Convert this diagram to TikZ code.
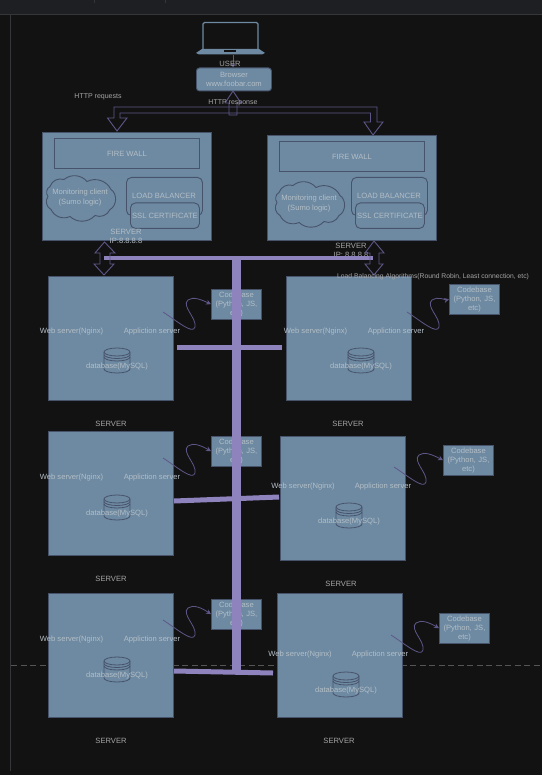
\documentclass[tikz,border=0pt]{standalone}
\usepackage{fontspec}
\setmainfont{Liberation Sans}
\usetikzlibrary{calc,arrows.meta}
\definecolor{bgc}{HTML}{121212}
\definecolor{barc}{HTML}{1E1F22}
\definecolor{sepc}{HTML}{34363A}
\definecolor{dashc}{HTML}{555555}
\definecolor{boxf}{HTML}{6D8AA2}
\definecolor{boxl}{HTML}{47536B}
\definecolor{txtc}{HTML}{B4BEC6}
\definecolor{txtd}{HTML}{A6A6A6}
\definecolor{purp}{HTML}{8F83BE}
\definecolor{purl}{HTML}{5F5688}
\tikzset{
  x=1pt,y=-1pt,
  lbl/.style={text=txtc,font=\fontsize{7.6}{9.2}\selectfont,inner sep=0pt,align=center},
  lbld/.style={lbl,text=txtd},
  lbls/.style={lbld,font=\fontsize{7}{9}\selectfont},
  blue box/.style={draw=boxl,fill=boxf,line width=0.9pt,anchor=north west,inner sep=0pt,lbl},
  round box/.style={blue box,rounded corners=5pt},
  cloudy/.style={draw=boxl,fill=boxf,line width=0.9pt},
  block/.style={draw=purl,line width=0.9pt,line join=miter},
  trunk/.style={draw=purp,line width=#1},
  trunk/.default=5pt,
  code link/.style={draw=purl,line width=0.8pt,-{Stealth[length=5pt,width=5pt,fill=purp]}},
  dbline/.style={draw=boxl,line width=0.8pt},
  cloud outline/.pic={
    \draw[cloudy] (-31,-11) to[bend left=45] (-17,-18) to[bend left=45] (6,-16) to[bend left=45] (30,-8)
      to[bend left=60] (29,12) to[bend left=45] (14,18) to[bend left=45] (-11,19) to[bend left=45] (-30,12)
      to[bend left=50] (-33,-1) to[bend left=50] cycle;
  },
}
\begin{document}
\begin{tikzpicture}
\useasboundingbox (0,0) rectangle (542,775);
% editor chrome
\fill[bgc] (0,0) rectangle (542,775);
\fill[barc] (0,0) rectangle (542,14);
\draw[sepc,line width=0.8pt] (0,14.5) -- (542,14.5);
\draw[sepc,line width=0.8pt] (94,0) -- (94,3);
\draw[sepc,line width=0.8pt] (165,0) -- (165,3);
\draw[sepc,line width=1pt] (10.5,14.5) -- (10.5,771);
\draw[dashc,line width=0.7pt,dash pattern=on 6pt off 3.5pt] (11,665.5) -- (542,665.5);

% laptop
\fill[boxf] (196,53) -- (202,49) -- (259,49) -- (265,53) -- (262,54.5) -- (199,54.5) -- cycle;
\draw[boxf,line width=1.4pt,rounded corners=1.5pt] (203,50) -- (203,22.5) -- (258,22.5) -- (258,50);
\fill[bgc] (224,50.5) rectangle (236,52.5);
\coordinate (laptop) at (233,55);

% browser
\node[round box,rounded corners=3pt,minimum width=75pt,minimum height=23pt] (browser) at (196,67.5) {Browser\\www.foobar.com};
\draw[draw=purl,line width=0.8pt,-{Stealth[length=4pt,width=4pt,fill=purp]}] (laptop) -- (browser.north -| laptop);
\node[lbld] (user) at (230,64) {USER};

% HTTP arrows
\node[lbls] (req) at (98,96.5) {HTTP requests};
\draw[block,line join=round] (233,91) -- (241,103) -- (237,103) -- (237,115) -- (229,115) -- (229,103) -- (225,103) -- cycle;
\node[lbls] (resp) at (233,103) {HTTP response};
\draw[block] (114,107) -- (377,107) -- (377,122) -- (383,122) -- (373,135) -- (364,122) -- (370.5,122) -- (370.5,113) -- (120,113) -- (120,118) -- (127,118) -- (117,131) -- (107.5,118) -- (114,118) -- cycle;

% left load-balancing server
\node[blue box,minimum width=169pt,minimum height=108pt] (lbA) at (42,132) {};
\node[blue box,minimum width=145pt,minimum height=29.5pt] (fwA) at (54,138.5) {FIRE WALL};
\pic at (81,197.5) {cloud outline};
\node[lbl] (moA) at (80,197.5) {Monitoring client\\(Sumo logic)};
\node[round box,minimum width=76pt,minimum height=38pt] (balA) at (126,177) {};
\node[lbl] (baltA) at (164,196) {LOAD BALANCER};
\node[round box,minimum width=69pt,minimum height=25.5pt] (sslA) at (130,202.5) {SSL CERTIFICATE};
\node[lbl] (ipA) at (126,236.5) {SERVER\\IP:8.8.8.8};

% right load-balancing server
\node[blue box,minimum width=169pt,minimum height=105pt] (lbB) at (267,135) {};
\node[blue box,minimum width=145pt,minimum height=29.5pt] (fwB) at (279,141.5) {FIRE WALL};
\pic at (310,203.5) {cloud outline};
\node[lbl] (moB) at (309,203.5) {Monitoring client\\(Sumo logic)};
\node[round box,minimum width=76pt,minimum height=38pt] (balB) at (351,177) {};
\node[lbl] (baltB) at (389,196) {LOAD BALANCER};
\node[round box,minimum width=69pt,minimum height=25.5pt] (sslB) at (355,202.5) {SSL CERTIFICATE};
\node[lbld] (ipB) at (351,250.5) {SERVER\\IP: 8.8.8.8};

% application servers
\foreach \n/\bx/\by/\wx/\ax/\ty/\dx/\dy/\lx/\ly/\cx/\cy in {
  a/48/276/71.5/152/330/117/365/111/423/211/289,
  b/286/276/315.5/396/330/361/365/348/423/449/284,
  c/48/431/71.5/152/476/117/512/111/578/211/436,
  d/280/436/303/383/485/349/520/341/583/443/445,
  e/48/593/71.5/152/638/117/674/111/740/211/599,
  f/277/593/300/380/653/346/689/339/740/439/613}{
  \node[blue box,minimum width=125pt,minimum height=124pt] (srv\n) at (\bx,\by) {};
  \node[blue box,minimum width=50pt,minimum height=29.5pt,font=\fontsize{7.6}{9}\selectfont,text width=48pt] (code\n) at (\cx,\cy) {Codebase\\(Python, JS,\\etc)};
  \begin{scope}[shift={(\dx,\dy)}]
    \path[fill=boxf] (-13,-13) -- (-13,4) arc[start angle=180,end angle=360,x radius=13pt,y radius=4pt] -- (13,-13) -- cycle;
    \draw[dbline] (-13,-13) -- (-13,4) arc[start angle=180,end angle=360,x radius=13pt,y radius=4pt] -- (13,-13);
    \draw[dbline] (-13,-13) arc[start angle=180,end angle=-180,x radius=13pt,y radius=4pt];
    \draw[dbline] (-13,-10.5) arc[start angle=180,end angle=360,x radius=13pt,y radius=4pt];
    \draw[dbline] (-13,-8) arc[start angle=180,end angle=360,x radius=13pt,y radius=4pt];
  \end{scope}
  \node[lbl,yshift=-1.5pt] (web\n) at (\wx,\ty) {Web server(Nginx)};
  \node[lbl,yshift=-1.5pt] (app\n) at (\ax,\ty) {Appliction server};
  \node[lbl,yshift=-1.5pt] (db\n) at (\dx,\dy) {database(MySQL)};
  \node[lbld,yshift=-1pt] (name\n) at (\lx,\ly) {SERVER};
  \coordinate (anc\n) at (\ax,\ty);
  \draw[code link] ($(anc\n)+(11,-18)$) .. controls ($(anc\n)+(25,-9)$) and ($(anc\n)+(41,5)$) .. ($(anc\n)+(43,-3)$) .. controls ($(anc\n)+(45,-12)$) and ($(anc\n)+(29,-24)$) .. ($(anc\n)+(36,-30)$) .. controls ($(anc\n)+(41,-34)$) and ($(anc\n)+(50,-30)$) .. (code\n.west);
}

% network bars
\coordinate (busL) at (104,258);
\coordinate (busR) at (373,258);
\coordinate (busT) at (236.5,258);
\coordinate (busB) at (236.5,671);
\draw[trunk=4.5pt] (busL) -- (busR);
\draw[trunk=9pt] (busT) -- (busB);
\draw[trunk] (177,347) -- (282,347);
\draw[trunk] (174,501) -- (279,497);
\draw[trunk] (174,671) -- (273,673);

% double block arrows
\draw[block] (104.5,242) -- (115,253) -- (110,253) -- (110,264) -- (114,264) -- (104,275) -- (94,264) -- (100,264) -- (100,253) -- (95,253) -- cycle;
\draw[block] (374,241) -- (384,253) -- (379,253) -- (379,264) -- (383,264) -- (374,275) -- (365,264) -- (370,264) -- (370,253) -- (365,253) -- cycle;

\node[lbls,anchor=west,font=\fontsize{6.75}{9}\selectfont] (algo) at (337,276.5) {Load Balancing Algorithms(Round Robin, Least connection, etc)};
\end{tikzpicture}
\end{document}
